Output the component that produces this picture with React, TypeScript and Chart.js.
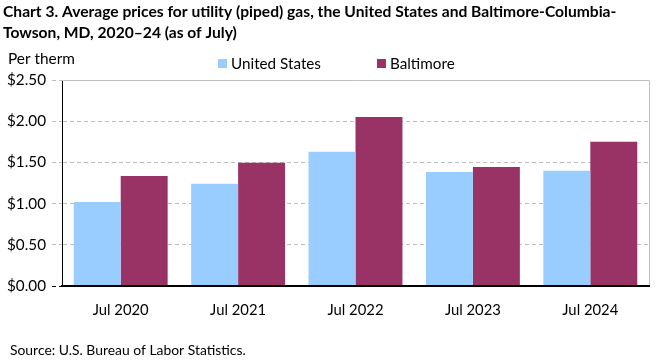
import React, { useEffect, useRef } from "react";
import { Chart, registerables } from "chart.js";

Chart.register(...registerables);

const categories = ["Jul 2020", "Jul 2021", "Jul 2022", "Jul 2023", "Jul 2024"];
const unitedStates = [1.02, 1.24, 1.63, 1.385, 1.4];
const baltimore = [1.335, 1.495, 2.05, 1.445, 1.75];
const yTicks = [0, 0.5, 1, 1.5, 2, 2.5];
const seriesNames = ["United States", "Baltimore"];
const seriesColors = ["#99CCFF", "#993366"];
const titleLines = [
  "Chart 3. Average prices for utility (piped) gas, the United States and Baltimore-Columbia-",
  "Towson, MD, 2020\u201324 (as of July)",
];
const yAxisTitle = "Per therm";
const sourceText = "Source: U.S. Bureau of Labor Statistics.";

const FAMILY = "Lato, 'Open Sans', sans-serif";
const W = 661;
const H = 361;

function fitSize(ctx: CanvasRenderingContext2D, text: string, weight: string, target: number) {
  ctx.font = `${weight} 100px ${FAMILY}`;
  const w = ctx.measureText(text).width;
  return (100 * target) / w;
}

export default function App() {
  const ref = useRef<HTMLCanvasElement | null>(null);

  useEffect(() => {
    const canvas = ref.current;
    if (!canvas) return;
    const m = document.createElement("canvas").getContext("2d") as CanvasRenderingContext2D;
    const titleSize = fitSize(m, titleLines[0], "bold", 614);
    const legendSize = fitSize(m, seriesNames[0], "normal", 90);
    const perSize = fitSize(m, yAxisTitle, "normal", 67);
    const ySize = fitSize(m, "$0.00", "normal", 39);
    const xSize = fitSize(m, categories[0], "normal", 56);
    const srcSize = fitSize(m, sourceText, "normal", 236);

    const decor = {
      id: "decor",
      beforeDatasetsDraw(chart: any) {
        const { ctx, chartArea } = chart;
        ctx.save();
        ctx.strokeStyle = "#BFBFBF";
        ctx.lineWidth = 1;
        ctx.beginPath();
        ctx.moveTo(chartArea.left, Math.round(chartArea.top) + 0.5);
        ctx.lineTo(Math.round(chartArea.right) + 0.5, Math.round(chartArea.top) + 0.5);
        ctx.lineTo(Math.round(chartArea.right) + 0.5, chartArea.bottom);
        ctx.stroke();
        ctx.restore();
      },
      afterDraw(chart: any) {
        const { ctx } = chart;
        ctx.save();
        ctx.fillStyle = "#000";
        ctx.textBaseline = "alphabetic";
        ctx.textAlign = "left";
        ctx.font = `bold ${titleSize}px ${FAMILY}`;
        ctx.fillText(titleLines[0], 3, 17);
        ctx.fillText(titleLines[1], 3, 38);
        ctx.font = `normal ${perSize}px ${FAMILY}`;
        ctx.fillText(yAxisTitle, 8, 64);
        // legend
        ctx.font = `normal ${legendSize}px ${FAMILY}`;
        let x = 218;
        chart.data.datasets.forEach((ds: any) => {
          ctx.fillStyle = ds.backgroundColor;
          ctx.fillRect(x, 59, 9, 9);
          x += 13;
          ctx.fillStyle = "#000";
          ctx.fillText(ds.label, x, 69);
          x += ctx.measureText(ds.label).width + 56;
        });
        ctx.font = `normal ${srcSize}px ${FAMILY}`;
        ctx.fillText(sourceText, 10, 355);
        ctx.restore();
      },
    };

    const chart = new Chart(canvas, {
      type: "bar",
      data: {
        labels: categories,
        datasets: [
          {
            label: seriesNames[0],
            data: unitedStates,
            backgroundColor: seriesColors[0],
            categoryPercentage: 0.8,
            barPercentage: 1,
          },
          {
            label: seriesNames[1],
            data: baltimore,
            backgroundColor: seriesColors[1],
            categoryPercentage: 0.8,
            barPercentage: 1,
          },
        ],
      },
      options: {
        responsive: false,
        animation: false,
        layout: { padding: { top: 80, left: 0, right: 12, bottom: 0 } },
        plugins: {
          legend: { display: false },
          title: { display: false },
          tooltip: { enabled: false },
        },
        scales: {
          x: {
            grid: { display: false, drawTicks: false },
            border: { color: "#000", width: 2, z: 1 } as any,
            ticks: {
              color: "#000",
              font: { family: FAMILY, size: xSize },
              padding: 15,
              maxRotation: 0,
            },
            afterFit: (s: any) => {
              s.height = 75;
            },
          },
          y: {
            min: 0,
            max: 2.5,
            afterBuildTicks: (s: any) => {
              s.ticks = yTicks.map((v) => ({ value: v }));
            },
            ticks: {
              color: "#000",
              font: { family: FAMILY, size: ySize },
              padding: 6,
              callback: (v: any) => "$" + Number(v).toFixed(2),
            },
            grid: {
              color: (c: any) => (c.tick && c.tick.value === 2.5 ? "rgba(0,0,0,0)" : "#BFBFBF"),
              tickColor: (c: any) => (c.tick && c.tick.value === 0 ? "#000" : "#BFBFBF"),
              tickLength: 10,
              tickBorderDash: [4, 3],
              lineWidth: 1,
            },
            border: { color: "#000", width: 1, dash: [4, 3] } as any,
            afterFit: (s: any) => {
              s.width = 62;
            },
          },
        },
      },
      plugins: [decor],
    });
    return () => chart.destroy();
  }, []);

  return (
    <div style={{ position: "fixed", left: 0, top: 0, width: W, height: H, background: "#fff" }}>
      <canvas ref={ref} width={W} height={H} style={{ width: W, height: H, display: "block" }} />
    </div>
  );
}
